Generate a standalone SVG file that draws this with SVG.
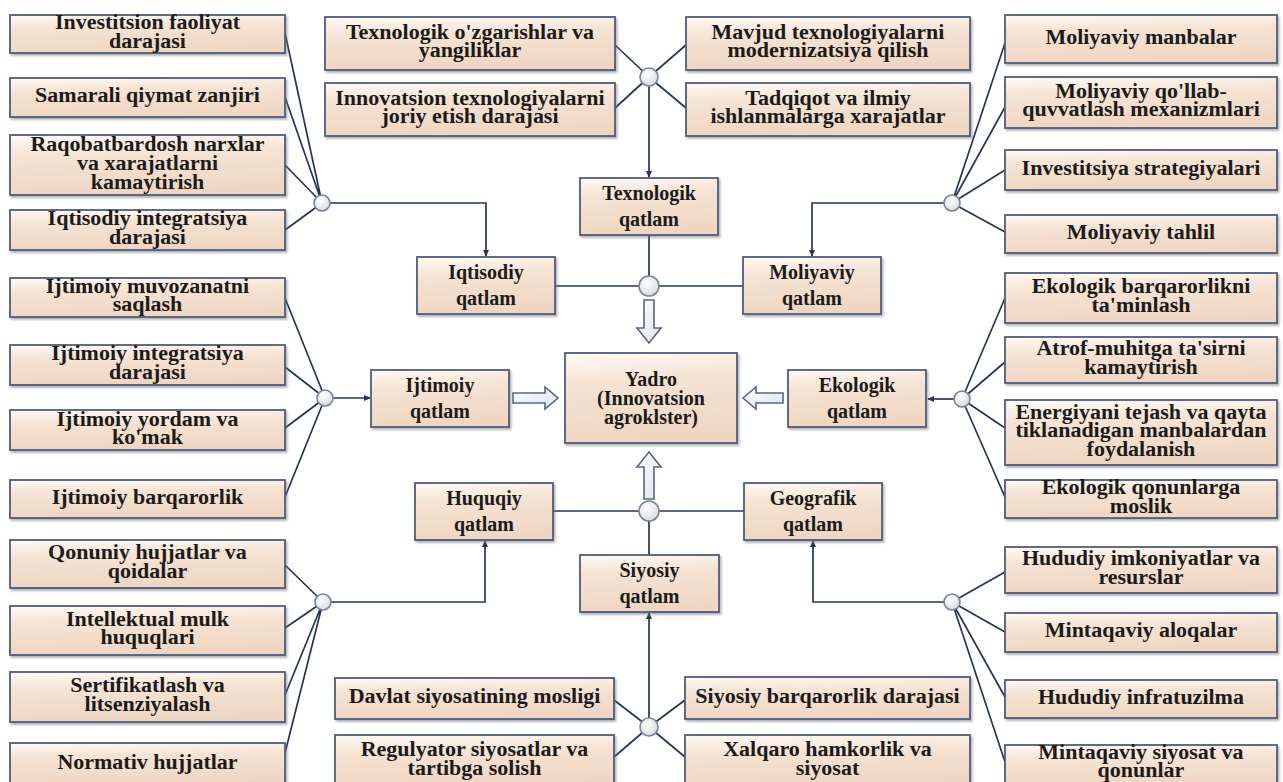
<svg xmlns="http://www.w3.org/2000/svg" width="1283" height="782" viewBox="0 0 1283 782">
  <defs>
    <linearGradient id="boxFill" x1="0" y1="0" x2="0.14" y2="1">
      <stop offset="0" stop-color="#fffaf6"/>
      <stop offset="0.35" stop-color="#f5e3d4"/>
      <stop offset="1" stop-color="#efd6c2"/>
    </linearGradient>
    <linearGradient id="blockFill" x1="0" y1="0" x2="1" y2="1">
      <stop offset="0" stop-color="#ffffff"/>
      <stop offset="1" stop-color="#dde2ea"/>
    </linearGradient>
    <radialGradient id="hubFill" cx="0.4" cy="0.35" r="0.7">
      <stop offset="0" stop-color="#ffffff"/>
      <stop offset="1" stop-color="#d6dae2"/>
    </radialGradient>
    <filter id="shadow" x="-5%" y="-10%" width="110%" height="130%">
      <feDropShadow dx="1.5" dy="2" stdDeviation="1.2" flood-color="#6f6f6f" flood-opacity="0.55"/>
    </filter>
    <marker id="tip" viewBox="0 0 8 8" markerWidth="7" markerHeight="7" refX="7" refY="4" orient="auto" markerUnits="userSpaceOnUse">
      <path d="M0,0.5 L8,4 L0,7.5 z" fill="#26345c"/>
    </marker>
    <style>
      .box { fill: url(#boxFill); stroke: #4f5d7c; stroke-width: 1.8; filter: url(#shadow); }
      .t { font-weight: 700; font-size: 20px; fill: #1b1b1b; text-anchor: middle;
           transform-box: fill-box; transform-origin: center; transform: scaleX(1.1); }
      .lt { font-weight: 700; font-size: 20px; fill: #1b1b1b; text-anchor: middle; }
      .ln { fill: none; stroke: #26345c; stroke-width: 1.7; }
      .arr { marker-end: url(#tip); }
      .hub { fill: url(#hubFill); stroke: #7b8394; stroke-width: 1.6; }
      .block { fill: url(#blockFill); stroke: #56658a; stroke-width: 1.6; stroke-linejoin: miter; }
    </style>
  </defs>

  <rect x="0" y="0" width="1283" height="782" fill="#ffffff"/>

  <!-- connectors -->
  <g id="connectors">
    <!-- fan lines into the junctions -->
    <path class="ln" d="M285,33 L322,203 M285,97 L322,203 M285,165 L322,203 M285,230 L322,203"/>
    <path class="ln" d="M285,298 L325,398 M285,367 L325,398 M285,428 L325,398 M285,497 L325,398"/>
    <path class="ln" d="M285,565 L323,602 M285,628 L323,602 M285,695 L323,602 M285,753 L323,602"/>
    <path class="ln" d="M1005,43 L952,203 M1005,107 L952,203 M1005,170 L952,203 M1005,232 L952,203"/>
    <path class="ln" d="M1005,298 L962,399 M1005,362 L962,399 M1005,428 L962,399 M1005,497 L962,399"/>
    <path class="ln" d="M1005,572 L952,602 M1005,632 L952,602 M1005,697 L952,602 M1005,762 L952,602"/>
    <path class="ln" d="M615,45 L649,77 M615,108 L649,77 M686,45 L649,77 M686,108 L649,77"/>
    <path class="ln" d="M614,700 L649,727 M614,757 L649,727 M685,700 L649,727 M685,757 L649,727"/>

    <!-- junctions to layers -->
    <path class="ln arr" d="M649,86 V177"/>
    <path class="ln" d="M649,235 V276"/>
    <path class="ln" d="M639,286 H555 M659,286 H743"/>
    <path class="ln arr" d="M330,203 H486 V256"/>
    <path class="ln arr" d="M944,203 H812 V256"/>
    <path class="ln arr" d="M333,398 H370"/>
    <path class="ln arr" d="M954,399 H928"/>
    <path class="ln" d="M639,511 H553 M659,511 H744 M649,521 V555"/>
    <path class="ln arr" d="M649,718 V613"/>
    <path class="ln arr" d="M331,602 H485 V541"/>
    <path class="ln arr" d="M944,602 H813 V541"/>

    <!-- block arrows towards the core -->
    <polygon class="block" points="644,300 654,300 654,328 661,328 649,343 637,328 644,328"/>
    <polygon class="block" points="649,452 661,467 654,467 654,499 644,499 644,467 637,467"/>
    <polygon class="block" points="513,393 545,393 545,387 558,398 545,409 545,403 513,403"/>
    <polygon class="block" points="743,398 756,387 756,393 783,393 783,403 756,403 756,409"/>
  </g>

  <!-- junction circles -->
  <g id="junctions">
    <circle class="hub" cx="649" cy="77" r="9"/>
    <circle class="hub" cx="649" cy="286" r="10"/>
    <circle class="hub" cx="649" cy="511" r="10"/>
    <circle class="hub" cx="649" cy="727" r="9"/>
    <circle class="hub" cx="322" cy="203" r="8"/>
    <circle class="hub" cx="325" cy="398" r="8"/>
    <circle class="hub" cx="323" cy="602" r="8"/>
    <circle class="hub" cx="952" cy="203" r="8"/>
    <circle class="hub" cx="962" cy="399" r="8"/>
    <circle class="hub" cx="952" cy="602" r="8"/>
  </g>

  <g id="nodes" font-family="Liberation Serif, Times New Roman, serif">
  <!-- core -->
  <g id="yadro">
    <rect class="box" x="565" y="353" width="172" height="90"/>
    <text class="lt"><tspan x="651" y="385.5">Yadro</tspan><tspan x="651" y="404.5">(Innovatsion</tspan><tspan x="651" y="423.5">agroklster)</tspan></text>
  </g>

  <!-- layers -->
  <g id="texnologik-qatlam">
    <rect class="box" x="580" y="178" width="138" height="57"/>
    <text class="lt"><tspan x="649" y="200">Texnologik</tspan><tspan x="649" y="226">qatlam</tspan></text>
  </g>
  <g id="iqtisodiy-qatlam">
    <rect class="box" x="417" y="257" width="138" height="57"/>
    <text class="lt"><tspan x="486" y="279">Iqtisodiy</tspan><tspan x="486" y="305">qatlam</tspan></text>
  </g>
  <g id="moliyaviy-qatlam">
    <rect class="box" x="743" y="257" width="138" height="57"/>
    <text class="lt"><tspan x="812" y="279">Moliyaviy</tspan><tspan x="812" y="305">qatlam</tspan></text>
  </g>
  <g id="ijtimoiy-qatlam">
    <rect class="box" x="371" y="370" width="138" height="57"/>
    <text class="lt"><tspan x="440" y="392">Ijtimoiy</tspan><tspan x="440" y="418">qatlam</tspan></text>
  </g>
  <g id="ekologik-qatlam">
    <rect class="box" x="788" y="370" width="138" height="57"/>
    <text class="lt"><tspan x="857" y="392">Ekologik</tspan><tspan x="857" y="418">qatlam</tspan></text>
  </g>
  <g id="huquqiy-qatlam">
    <rect class="box" x="415" y="483" width="138" height="57"/>
    <text class="lt"><tspan x="484" y="505">Huquqiy</tspan><tspan x="484" y="531">qatlam</tspan></text>
  </g>
  <g id="geografik-qatlam">
    <rect class="box" x="744" y="483" width="138" height="57"/>
    <text class="lt"><tspan x="813" y="505">Geografik</tspan><tspan x="813" y="531">qatlam</tspan></text>
  </g>
  <g id="siyosiy-qatlam">
    <rect class="box" x="580" y="555" width="139" height="57"/>
    <text class="lt"><tspan x="649.5" y="577">Siyosiy</tspan><tspan x="649.5" y="603">qatlam</tspan></text>
  </g>

  <!-- economic factors -->
  <g id="investitsion-faoliyat">
    <rect class="box" x="10" y="15" width="275" height="38"/>
    <text class="t"><tspan x="147.5" y="29.5">Investitsion faoliyat</tspan><tspan x="147.5" y="48">darajasi</tspan></text>
  </g>
  <g id="samarali-qiymat">
    <rect class="box" x="10" y="78" width="275" height="39"/>
    <text class="t" x="147.5" y="102.5">Samarali qiymat zanjiri</text>
  </g>
  <g id="raqobatbardosh-narxlar">
    <rect class="box" x="10" y="135" width="275" height="60"/>
    <text class="t"><tspan x="147.5" y="151">Raqobatbardosh narxlar</tspan><tspan x="147.5" y="170">va xarajatlarni</tspan><tspan x="147.5" y="189">kamaytirish</tspan></text>
  </g>
  <g id="iqtisodiy-integratsiya">
    <rect class="box" x="10" y="210" width="275" height="40"/>
    <text class="t"><tspan x="147.5" y="225.5">Iqtisodiy integratsiya</tspan><tspan x="147.5" y="244">darajasi</tspan></text>
  </g>

  <!-- social factors -->
  <g id="ijtimoiy-muvozanat">
    <rect class="box" x="10" y="278" width="275" height="39"/>
    <text class="t"><tspan x="147.5" y="293">Ijtimoiy muvozanatni</tspan><tspan x="147.5" y="311.5">saqlash</tspan></text>
  </g>
  <g id="ijtimoiy-integratsiya">
    <rect class="box" x="10" y="345" width="275" height="40"/>
    <text class="t"><tspan x="147.5" y="360.5">Ijtimoiy integratsiya</tspan><tspan x="147.5" y="379">darajasi</tspan></text>
  </g>
  <g id="ijtimoiy-yordam">
    <rect class="box" x="10" y="410" width="275" height="40"/>
    <text class="t"><tspan x="147.5" y="425.5">Ijtimoiy yordam va</tspan><tspan x="147.5" y="444">ko'mak</tspan></text>
  </g>
  <g id="ijtimoiy-barqarorlik">
    <rect class="box" x="10" y="480" width="275" height="38"/>
    <text class="t" x="147.5" y="504">Ijtimoiy barqarorlik</text>
  </g>

  <!-- legal factors -->
  <g id="qonuniy-hujjatlar">
    <rect class="box" x="10" y="540" width="275" height="48"/>
    <text class="t"><tspan x="147.5" y="559.5">Qonuniy hujjatlar va</tspan><tspan x="147.5" y="578">qoidalar</tspan></text>
  </g>
  <g id="intellektual-mulk">
    <rect class="box" x="10" y="606" width="275" height="49"/>
    <text class="t"><tspan x="147.5" y="626">Intellektual mulk</tspan><tspan x="147.5" y="644.5">huquqlari</tspan></text>
  </g>
  <g id="sertifikatlash">
    <rect class="box" x="10" y="672" width="275" height="50"/>
    <text class="t"><tspan x="147.5" y="692.5">Sertifikatlash va</tspan><tspan x="147.5" y="711">litsenziyalash</tspan></text>
  </g>
  <g id="normativ-hujjatlar">
    <rect class="box" x="10" y="743" width="275" height="42"/>
    <text class="t" x="147.5" y="769">Normativ hujjatlar</text>
  </g>

  <!-- technological factors -->
  <g id="texnologik-ozgarishlar">
    <rect class="box" x="325" y="17" width="290" height="53"/>
    <text class="t"><tspan x="470" y="39">Texnologik o'zgarishlar va</tspan><tspan x="470" y="57.5">yangiliklar</tspan></text>
  </g>
  <g id="innovatsion-texnologiyalar">
    <rect class="box" x="325" y="83" width="290" height="53"/>
    <text class="t"><tspan x="470" y="105">Innovatsion texnologiyalarni</tspan><tspan x="470" y="123.5">joriy etish darajasi</tspan></text>
  </g>
  <g id="mavjud-texnologiyalar">
    <rect class="box" x="686" y="17" width="284" height="53"/>
    <text class="t"><tspan x="828" y="39">Mavjud texnologiyalarni</tspan><tspan x="828" y="57.5">modernizatsiya qilish</tspan></text>
  </g>
  <g id="tadqiqot-xarajatlar">
    <rect class="box" x="686" y="83" width="284" height="53"/>
    <text class="t"><tspan x="828" y="105">Tadqiqot va ilmiy</tspan><tspan x="828" y="123.5">ishlanmalarga xarajatlar</tspan></text>
  </g>

  <!-- political factors -->
  <g id="davlat-siyosati">
    <rect class="box" x="335" y="678" width="279" height="41"/>
    <text class="t" x="474.5" y="703.5">Davlat siyosatining mosligi</text>
  </g>
  <g id="regulyator-siyosatlar">
    <rect class="box" x="335" y="735" width="279" height="52"/>
    <text class="t"><tspan x="474.5" y="756.5">Regulyator siyosatlar va</tspan><tspan x="474.5" y="775">tartibga solish</tspan></text>
  </g>
  <g id="siyosiy-barqarorlik">
    <rect class="box" x="685" y="677" width="285" height="42"/>
    <text class="t" x="827.5" y="703">Siyosiy barqarorlik darajasi</text>
  </g>
  <g id="xalqaro-hamkorlik">
    <rect class="box" x="685" y="735" width="285" height="52"/>
    <text class="t"><tspan x="827.5" y="756.5">Xalqaro hamkorlik va</tspan><tspan x="827.5" y="775">siyosat</tspan></text>
  </g>

  <!-- financial factors -->
  <g id="moliyaviy-manbalar">
    <rect class="box" x="1005" y="15" width="272" height="48"/>
    <text class="t" x="1141" y="44">Moliyaviy manbalar</text>
  </g>
  <g id="moliyaviy-qollab">
    <rect class="box" x="1005" y="77" width="272" height="51"/>
    <text class="t"><tspan x="1141" y="98">Moliyaviy qo'llab-</tspan><tspan x="1141" y="116.5">quvvatlash mexanizmlari</tspan></text>
  </g>
  <g id="investitsiya-strategiyalari">
    <rect class="box" x="1005" y="150" width="272" height="40"/>
    <text class="t" x="1141" y="175">Investitsiya strategiyalari</text>
  </g>
  <g id="moliyaviy-tahlil">
    <rect class="box" x="1005" y="215" width="272" height="38"/>
    <text class="t" x="1141" y="239">Moliyaviy tahlil</text>
  </g>

  <!-- ecological factors -->
  <g id="ekologik-barqarorlik">
    <rect class="box" x="1005" y="273" width="272" height="50"/>
    <text class="t"><tspan x="1141" y="293.5">Ekologik barqarorlikni</tspan><tspan x="1141" y="312">ta'minlash</tspan></text>
  </g>
  <g id="atrof-muhit">
    <rect class="box" x="1005" y="337" width="272" height="46"/>
    <text class="t"><tspan x="1141" y="355.5">Atrof-muhitga ta'sirni</tspan><tspan x="1141" y="374">kamaytirish</tspan></text>
  </g>
  <g id="energiya-tejash">
    <rect class="box" x="1005" y="400" width="272" height="65"/>
    <text class="t"><tspan x="1141" y="419">Energiyani tejash va qayta</tspan><tspan x="1141" y="437.5">tiklanadigan manbalardan</tspan><tspan x="1141" y="456">foydalanish</tspan></text>
  </g>
  <g id="ekologik-qonunlar">
    <rect class="box" x="1005" y="480" width="272" height="38"/>
    <text class="t"><tspan x="1141" y="494.5">Ekologik qonunlarga</tspan><tspan x="1141" y="513">moslik</tspan></text>
  </g>

  <!-- geographic factors -->
  <g id="hududiy-imkoniyatlar">
    <rect class="box" x="1005" y="547" width="272" height="46"/>
    <text class="t"><tspan x="1141" y="565.5">Hududiy imkoniyatlar va</tspan><tspan x="1141" y="584">resurslar</tspan></text>
  </g>
  <g id="mintaqaviy-aloqalar">
    <rect class="box" x="1005" y="613" width="272" height="39"/>
    <text class="t" x="1141" y="637.5">Mintaqaviy aloqalar</text>
  </g>
  <g id="hududiy-infratuzilma">
    <rect class="box" x="1005" y="680" width="272" height="38"/>
    <text class="t" x="1141" y="704">Hududiy infratuzilma</text>
  </g>
  <g id="mintaqaviy-siyosat">
    <rect class="box" x="1005" y="745" width="272" height="42"/>
    <text class="t"><tspan x="1141" y="759.5">Mintaqaviy siyosat va</tspan><tspan x="1141" y="777">qonunlar</tspan></text>
  </g>
  </g>
</svg>
